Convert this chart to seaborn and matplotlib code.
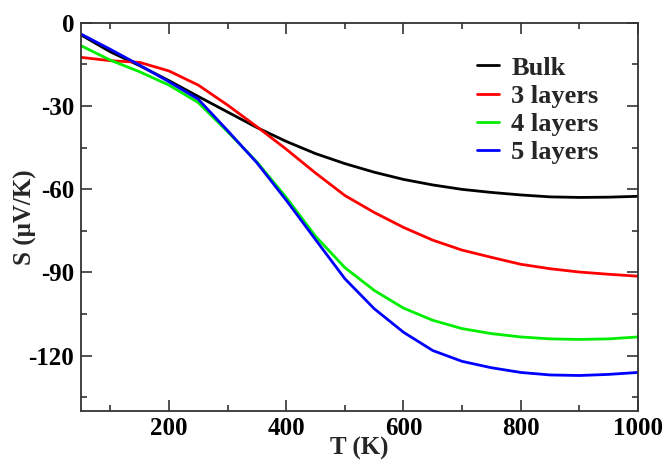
import matplotlib
matplotlib.use("Agg")
import matplotlib.pyplot as plt
import seaborn as sns
import pandas as pd
from matplotlib.ticker import MultipleLocator

temperature = [50, 100, 150, 200, 250, 300, 350, 400, 450, 500,
               550, 600, 650, 700, 750, 800, 850, 900, 950, 1000]
bulk = [-4.4, -10.5, -15.5, -20.9, -26.6, -32.2, -37.8, -42.8, -47.2, -50.8,
        -53.9, -56.5, -58.5, -60.1, -61.2, -62.1, -62.8, -63.0, -62.9, -62.6]
layers3 = [-12.5, -13.7, -14.3, -17.4, -22.5, -29.7, -37.5, -45.6, -54.2, -62.3,
           -68.4, -73.8, -78.4, -82.0, -84.6, -87.1, -88.7, -89.9, -90.7, -91.4]
layers4 = [-8.3, -13.5, -17.7, -22.5, -28.8, -39.3, -50.2, -63.0, -77.0, -88.3,
           -96.5, -102.9, -107.3, -110.3, -112.1, -113.3, -114.0, -114.2, -114.0, -113.3]
layers5 = [-4.1, -9.6, -15.3, -21.3, -27.6, -38.9, -50.5, -64.0, -78.2, -92.3,
           -103.1, -111.6, -118.2, -122.1, -124.4, -126.1, -127.0, -127.2, -126.8, -126.1]
series_names = ["Bulk", "3 layers", "4 layers", "5 layers"]
series_colors = ["#000000", "#ff0000", "#00ee00", "#0000ff"]

frames = []
for name, vals in zip(series_names, [bulk, layers3, layers4, layers5]):
    frames.append(pd.DataFrame({"T": temperature, "S": vals, "series": name}))
df = pd.concat(frames, ignore_index=True)

sns.set_style("ticks")
plt.rcParams["font.family"] = ["Liberation Serif", "DejaVu Serif"]
plt.rcParams["font.weight"] = "bold"
plt.rcParams["axes.unicode_minus"] = False

fig = plt.figure(figsize=(6.65, 4.63), dpi=100)
ax = fig.add_axes([0.1218, 0.1123, 0.8376, 0.8387])

sns.lineplot(data=df, x="T", y="S", hue="series", hue_order=series_names,
             palette=series_colors, linewidth=2, ax=ax, legend=True)

ax.set_xlim(50, 1000)
ax.set_ylim(-140, 0)
ax.xaxis.set_major_locator(MultipleLocator(200))
ax.xaxis.set_minor_locator(MultipleLocator(100))
ax.yaxis.set_major_locator(MultipleLocator(30))
ax.yaxis.set_minor_locator(MultipleLocator(15))
ax.tick_params(which="both", direction="in", top=True, right=True,
               colors="#333333", labelcolor="black", width=1.2)
ax.tick_params(which="major", length=8, labelsize=18)
ax.tick_params(axis="x", which="major", pad=4)
ax.tick_params(axis="y", which="major", pad=5)
ax.tick_params(which="minor", length=4)
for lab in ax.get_xticklabels() + ax.get_yticklabels():
    lab.set_fontweight("bold")
for sp in ax.spines.values():
    sp.set_color("#333333")
    sp.set_linewidth(1.3)

ax.set_xlabel("T (K)", fontsize=18, fontweight="bold", labelpad=-2)
ax.set_ylabel("S (\u03bcV/K)", fontsize=18, fontweight="bold", labelpad=-6)

leg = ax.legend(loc="upper left", bbox_to_anchor=(0.711, 0.914), frameon=False,
                prop={"size": 19, "weight": "bold"}, handlelength=0.85,
                handletextpad=0.45, labelspacing=0.18, borderpad=0, borderaxespad=0)
for line in leg.get_lines():
    line.set_linewidth(2)

fig.savefig("out.png", dpi=100)
